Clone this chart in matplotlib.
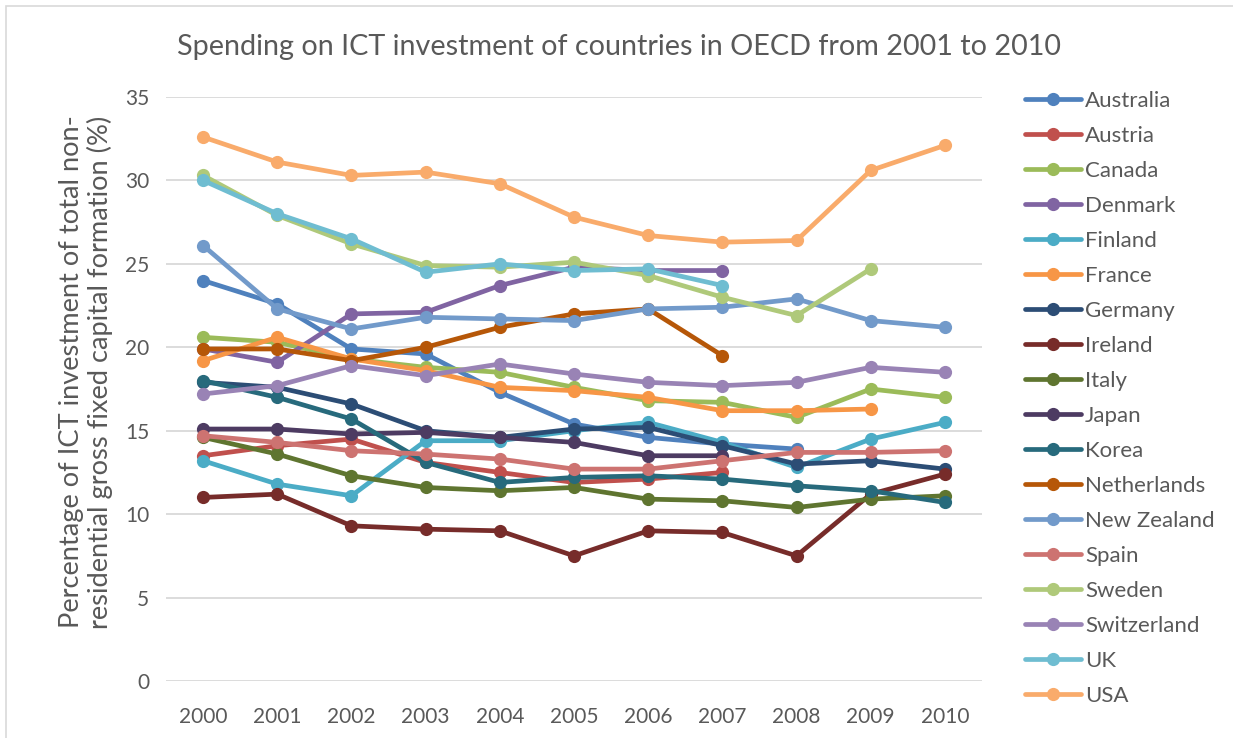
import matplotlib
matplotlib.use("Agg")
import matplotlib.pyplot as plt
import numpy as np
from matplotlib.patches import Rectangle

plt.rcParams['font.family'] = ['Lato', 'DejaVu Sans']

years = ['2000', '2001', '2002', '2003', '2004', '2005',
         '2006', '2007', '2008', '2009', '2010']

australia = [24.0, 22.6, 19.9, 19.6, 17.3, 15.4, 14.6, 14.2, 13.9, None, None]
austria = [13.5, 14.1, 14.5, 13.1, 12.5, 11.9, 12.1, 12.5, None, None, None]
canada = [20.6, 20.3, 19.3, 18.8, 18.5, 17.6, 16.8, 16.7, 15.8, 17.5, 17.0]
denmark = [19.9, 19.1, 22.0, 22.1, 23.7, 24.8, 24.6, 24.6, None, None, None]
finland = [13.2, 11.8, 11.1, 14.4, 14.4, 15.0, 15.5, 14.3, 12.8, 14.5, 15.5]
france = [19.2, 20.6, 19.3, 18.6, 17.6, 17.4, 17.0, 16.2, 16.2, 16.3, None]
germany = [17.9, 17.6, 16.6, 15.0, 14.6, 15.1, 15.2, 14.1, 13.0, 13.2, 12.7]
ireland = [11.0, 11.2, 9.3, 9.1, 9.0, 7.5, 9.0, 8.9, 7.5, 11.2, 12.4]
italy = [14.6, 13.6, 12.3, 11.6, 11.4, 11.6, 10.9, 10.8, 10.4, 10.9, 11.1]
japan = [15.1, 15.1, 14.8, 14.9, 14.6, 14.3, 13.5, 13.5, None, None, None]
korea = [18.0, 17.0, 15.7, 13.1, 11.9, 12.2, 12.3, 12.1, 11.7, 11.4, 10.7]
netherlands = [19.9, 19.9, 19.2, 20.0, 21.2, 22.0, 22.3, 19.5, None, None, None]
new_zealand = [26.1, 22.3, 21.1, 21.8, 21.7, 21.6, 22.3, 22.4, 22.9, 21.6, 21.2]
spain = [14.7, 14.3, 13.8, 13.6, 13.3, 12.7, 12.7, 13.2, 13.7, 13.7, 13.8]
sweden = [30.3, 27.9, 26.2, 24.9, 24.8, 25.1, 24.3, 23.0, 21.9, 24.7, None]
switzerland = [17.2, 17.7, 18.9, 18.3, 19.0, 18.4, 17.9, 17.7, 17.9, 18.8, 18.5]
uk = [30.0, 28.0, 26.5, 24.5, 25.0, 24.6, 24.7, 23.7, None, None, None]
usa = [32.6, 31.1, 30.3, 30.5, 29.8, 27.8, 26.7, 26.3, 26.4, 30.6, 32.1]

countries = ['Australia', 'Austria', 'Canada', 'Denmark', 'Finland', 'France',
             'Germany', 'Ireland', 'Italy', 'Japan', 'Korea', 'Netherlands',
             'New Zealand', 'Spain', 'Sweden', 'Switzerland', 'UK', 'USA']
series = [australia, austria, canada, denmark, finland, france,
          germany, ireland, italy, japan, korea, netherlands,
          new_zealand, spain, sweden, switzerland, uk, usa]
colors = ['#4F81BD', '#C0504D', '#9BBB59', '#8064A2', '#4BACC6', '#F79646',
          '#2C4D75', '#772C2A', '#5F7530', '#4D3B62', '#276A7C', '#B65708',
          '#729ACA', '#CD7371', '#AFC97A', '#9983B5', '#6FBDD1', '#F9AB6B']

text_color = '#595959'
W, H = 1233, 738
fig = plt.figure(figsize=(W / 100, H / 100), dpi=100)

# chart frame (only its top and left edges fall inside the image)
fig.patches.append(Rectangle((6 / W, -0.1), 2.0, 1.1 - 6 / H,
                             transform=fig.transFigure, fill=False,
                             edgecolor='#D9D9D9', linewidth=1.2))

ax = fig.add_axes([166 / W, (H - 681) / H, (982 - 166) / W, (681 - 97) / H])

x = np.arange(len(years))
for name, vals, col in zip(countries, series, colors):
    y = np.array([np.nan if v is None else v for v in vals], dtype=float)
    ax.plot(x, y, color=col, linewidth=3.4, marker='o', markersize=9.5,
            markeredgewidth=0, label=name, solid_capstyle='round',
            solid_joinstyle='round')

ax.set_xlim(-0.5, len(years) - 0.5)
ax.set_ylim(0, 35)
ax.set_yticks(np.arange(0, 36, 5))
ax.set_xticks(x)
ax.set_xticklabels(years)
ax.grid(axis='y', color='#D9D9D9', linewidth=1.3)
ax.set_axisbelow(True)
for s in ax.spines.values():
    s.set_visible(False)
ax.tick_params(axis='both', length=0, labelsize=15, colors=text_color)
ax.tick_params(axis='y', pad=12)
ax.tick_params(axis='x', pad=19)

fig.text(619 / W, 1 - 47 / H,
         'Spending on ICT investment of countries in OECD from 2001 to 2010',
         ha='center', va='center', fontsize=20.7, color=text_color)

fig.text(86 / W, 1 - 372 / H,
         'Percentage of ICT investment of total non-\n'
         'residential gross fixed capital formation (%)',
         ha='center', va='center', rotation=90, fontsize=19.6,
         color=text_color, linespacing=1.12)

leg = fig.legend(loc='upper left', bbox_to_anchor=(1025 / W, 1 - 91 / H),
                 frameon=False, fontsize=16, handlelength=2.52,
                 handletextpad=0.18, labelspacing=0.675, borderaxespad=0,
                 borderpad=0)
for t in leg.get_texts():
    t.set_color(text_color)

fig.savefig('out.png', dpi=100)
